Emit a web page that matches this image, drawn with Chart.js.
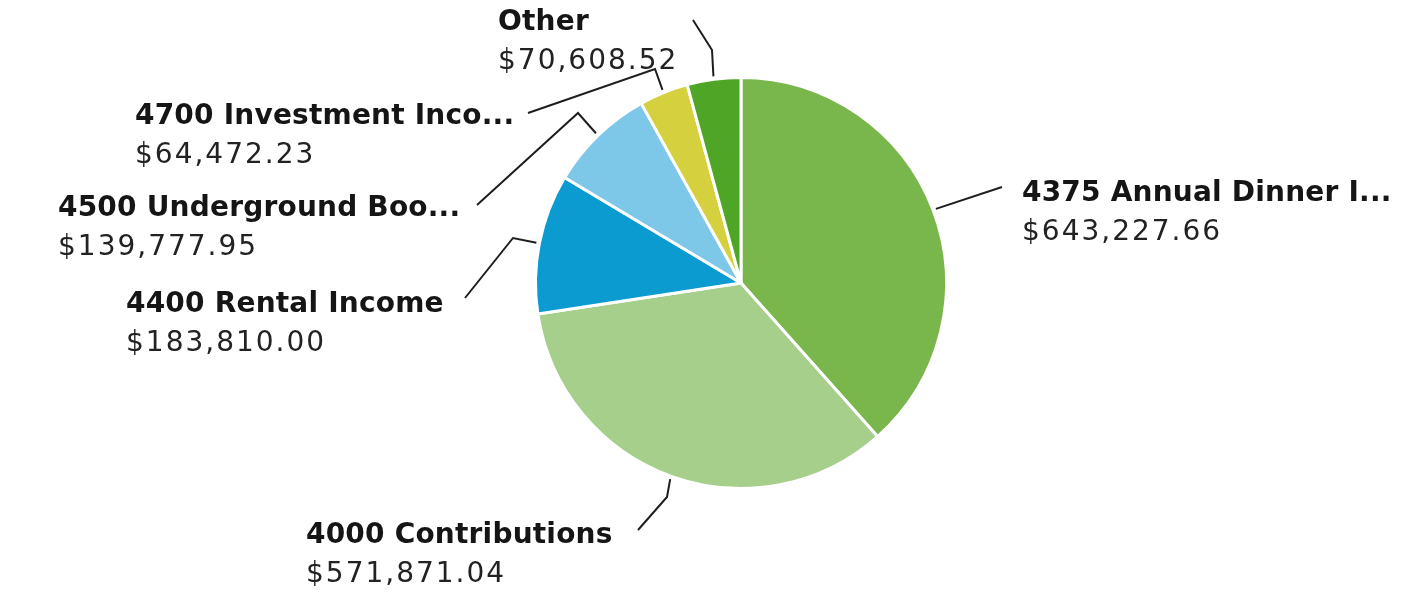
<!DOCTYPE html>
<html>
<head>
<meta charset="utf-8">
<script src="https://cdn.jsdelivr.net/npm/chart.js@4"></script>
<style>
  html, body { margin: 0; padding: 0; background: #fff; }
  #grafico { display: block; }
</style>
</head>
<body>
<canvas id="grafico" width="1415" height="595"></canvas>
<script>
// datos del gráfico (sentido horario desde las 12)
const categorias = [
    "4375 Annual Dinner I...",
    "4000 Contributions",
    "4400 Rental Income",
    "4500 Underground Boo...",
    "4700 Investment Inco...",
    "Other"
];
const montos = [643227.66, 571871.04, 183810.00, 139777.95, 64472.23, 70608.52];
const colores = ["#79b64b", "#a6cf8b", "#0b9bd1", "#7dc7e9", "#d5d03d", "#4fa526"];

// posición de cada etiqueta y su línea guía (codo, final)
const etiquetasPos = [
    { x: 1022, y: 194, codo: null,       fin: [1002, 187] },
    { x: 306,  y: 536, codo: [667, 497], fin: [638, 530] },
    { x: 126,  y: 305, codo: [513, 238], fin: [465, 298] },
    { x: 58,   y: 209, codo: [578, 113], fin: [477, 205] },
    { x: 135,  y: 117, codo: [655, 69],  fin: [528, 113] },
    { x: 498,  y: 23,  codo: [712, 50],  fin: [693, 20] }
];

function formatoDinero(v) {
    return "$" + v.toLocaleString("en-US", { minimumFractionDigits: 2, maximumFractionDigits: 2 });
}

const etiquetasPlugin = {
    id: "etiquetas",
    afterDraw(chart) {
        const ctx = chart.ctx;
        const arcos = chart.getDatasetMeta(0).data;
        ctx.save();
        arcos.forEach((arco, i) => {
            const p = arco.getProps(["x", "y", "startAngle", "endAngle", "outerRadius"], true);
            const medio = (p.startAngle + p.endAngle) / 2;
            const r = p.outerRadius + 3;
            const pos = etiquetasPos[i];

            // línea guía
            ctx.strokeStyle = "#1e1e1e";
            ctx.lineWidth = 2;
            ctx.beginPath();
            ctx.moveTo(p.x + Math.cos(medio) * r, p.y + Math.sin(medio) * r);
            if (pos.codo) ctx.lineTo(pos.codo[0], pos.codo[1]);
            ctx.lineTo(pos.fin[0], pos.fin[1]);
            ctx.stroke();

            // textos
            ctx.textAlign = "left";
            ctx.textBaseline = "middle";
            ctx.fillStyle = "#151515";
            ctx.font = "bold 28px 'DejaVu Sans'";
            ctx.letterSpacing = "0.2px";
            ctx.fillText(categorias[i], pos.x, pos.y);
            ctx.fillStyle = "#222";
            ctx.font = "28px 'DejaVu Sans'";
            ctx.letterSpacing = "2px";
            ctx.fillText(formatoDinero(montos[i]), pos.x, pos.y + 39);
        });
        ctx.restore();
    }
};

const canvas = document.getElementById("grafico");
new Chart(canvas.getContext("2d"), {
    type: "pie",
    data: {
        labels: categorias,
        datasets: [{
            data: montos,
            backgroundColor: colores,
            borderColor: "#ffffff",
            borderWidth: 3
        }]
    },
    options: {
        responsive: false,
        animation: false,
        layout: { padding: { top: 76, bottom: 105, left: 534, right: 467 } },
        plugins: {
            legend: { display: false },
            tooltip: { enabled: false }
        }
    },
    plugins: [etiquetasPlugin]
});
</script>
</body>
</html>
